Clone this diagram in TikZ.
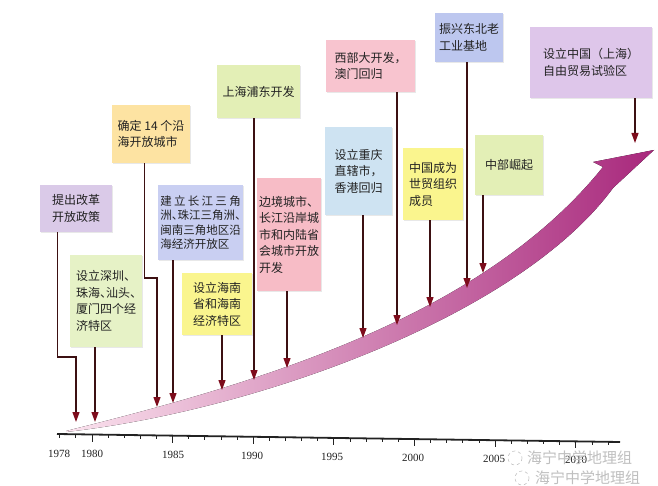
\documentclass[tikz,border=0pt]{standalone}
\usepackage{fontspec}
\setmainfont{Liberation Serif}
\newfontfamily\cjk{Noto Sans CJK SC}
\usetikzlibrary{arrows.meta,shadows}
\definecolor{cPur}{HTML}{DACAE8}
\definecolor{cPurB}{HTML}{DEC6EA}
\definecolor{cGrn}{HTML}{E6F2C6}
\definecolor{cGrnB}{HTML}{E3EFB6}
\definecolor{cOra}{HTML}{FDE3A2}
\definecolor{cBlu}{HTML}{C9CFF2}
\definecolor{cBluB}{HTML}{BDC7EF}
\definecolor{cYel}{HTML}{FAF58E}
\definecolor{cPnk}{HTML}{F7BCC6}
\definecolor{cPnkB}{HTML}{F8C4CF}
\definecolor{cLbl}{HTML}{CEE3F2}
\definecolor{lineC}{HTML}{3C1012}
\definecolor{tipC}{HTML}{7D0C1C}
\definecolor{arrL}{HTML}{FBE3EE}
\definecolor{arrM}{HTML}{D462A8}
\definecolor{arrR}{HTML}{A8287C}
\definecolor{txtC}{HTML}{222222}
\newcommand\dun{\makebox[0.5em][l]{、}}
\begin{document}
\begin{tikzpicture}[x=1pt,y=-1pt,
  note/.style={draw=none, inner sep=1pt, align=left, text=txtC,
    font=\cjk\fontsize{12}{16.5}\selectfont,
    drop shadow={opacity=0.18, shadow xshift=1.2pt, shadow yshift=-1.2pt}},
  conn/.style={draw=lineC, line width=1.2pt, -{Triangle[length=10pt,width=7pt,color=tipC]}},
  yearlbl/.style={font=\fontsize{11}{13}\selectfont, text=txtC, inner sep=0pt},
  wmark/.style={font=\cjk\fontsize{15}{17}\selectfont, text=gray!50, inner sep=0pt}]
\useasboundingbox (0,0) rectangle (658,486);
\fill[white] (0,0) rectangle (658,486);

% big rising arrow
\fill[left color=arrL, middle color=arrM, right color=arrR]
  (66,431) .. controls (250,385) and (480,320) .. (603,167)
  -- (593,162) -- (654,150)
  -- (613,188) .. controls (520,315) and (260,410) .. (66,432)
  -- cycle;

% time axis
\draw[line width=1.8pt, txtC] (57,434) -- (620,442);
\foreach \yr in {1978,...,2012}{
  \pgfmathsetmacro\xx{92+(\yr-1980)*16.13}
  \pgfmathsetmacro\yy{434+(\xx-57)*0.0142}
  \pgfmathsetmacro\len{ifthenelse(mod(\yr,5)==0,7,3.5)}
  \draw[line width=1pt, txtC] (\xx,\yy) -- ++(0,\len);
}
\node[yearlbl] (y1978) at (59,454) {1978};
\node[yearlbl] (y1980) at (92,454) {1980};
\node[yearlbl] (y1985) at (173,455) {1985};
\node[yearlbl] (y1990) at (252,456) {1990};
\node[yearlbl] (y1995) at (332,457) {1995};
\node[yearlbl] (y2000) at (413,458) {2000};
\node[yearlbl] (y2005) at (494,459) {2005};
\node[yearlbl] (y2010) at (576,460) {2010};

% boxes
\node[note, fill=cPur, minimum width=72pt, minimum height=47pt] (b1) at (76,208.5) {提出改革\\开放政策};
\node[note, fill=cGrn, minimum width=72pt, minimum height=92pt] (b2) at (106,301) {设立深圳、\\珠海\dun 汕头\dun\\厦门四个经\\济特区};
\node[note, fill=cOra, minimum width=78pt, minimum height=58pt] (b3) at (151,134) {确定 14 个沿\\海开放城市};
\node[note, fill=cBlu, minimum width=85pt, minimum height=75pt, font=\cjk\fontsize{11.5}{14.5}\selectfont] (b4) at (200.5,222.5)
  {\makebox[7em][s]{建\hfil 立\hfil 长\hfil 江\hfil 三\hfil 角}\\洲\dun 珠江三角洲\dun\\闽南三角地区沿\\海经济开放区};
\node[note, fill=cYel, minimum width=70pt, minimum height=62pt] (b5) at (217,304) {设立海南\\省和海南\\经济特区};
\node[note, fill=cGrnB, minimum width=83pt, minimum height=53pt] (b6) at (258.5,91.5) {上海浦东开发};
\node[note, fill=cPnk, minimum width=64pt, minimum height=113pt] (b7) at (289,234.5) {边境城市、\\长江沿岸城\\市和内陆省\\会城市开放\\开发};
\node[note, fill=cLbl, minimum width=67pt, minimum height=88pt] (b8) at (358.5,171) {设立重庆\\直辖市，\\香港回归};
\node[note, fill=cPnkB, minimum width=89pt, minimum height=52pt] (b9) at (370.5,66) {西部大开发，\\澳门回归};
\node[note, fill=cYel, minimum width=60pt, minimum height=72pt] (b10) at (433,184) {中国成为\\世贸组织\\成员};
\node[note, fill=cBluB, minimum width=68pt, minimum height=49pt] (b11) at (469,37.5) {振兴东北老\\工业基地};
\node[note, fill=cGrnB, minimum width=68pt, minimum height=60pt] (b12) at (509,165) {中部崛起};
\node[note, fill=cPurB, minimum width=122pt, minimum height=71pt] (b13) at (591,62.5) {设立中国（上海）\\自由贸易试验区};

% connector end points
\coordinate (t1) at (76,422);
\coordinate (j1) at (76,357);
\coordinate (t2) at (95,422);
\coordinate (t3) at (157,407);
\coordinate (j3) at (157,278);
\coordinate (t4) at (173,403);
\coordinate (t5) at (222,390);
\coordinate (t6) at (254,380);
\coordinate (t7) at (287,368);
\coordinate (t8) at (363,338);
\coordinate (t9) at (397,325);
\coordinate (t10) at (430,307);
\coordinate (t11) at (467,288);
\coordinate (t12) at (483,273);
\coordinate (t13) at (635,143);

% connectors
\draw[conn] (b1.south west) ++(18,0) |- (j1) -- (t1);
\draw[conn] (b2.south -| t2) -- (t2);
\draw[conn] (b3.south west) ++(33,0) |- (j3) -- (t3);
\draw[conn] (b4.south -| t4) -- (t4);
\draw[conn] (b5.south -| t5) -- (t5);
\draw[conn] (b6.south -| t6) -- (t6);
\draw[conn] (b7.south -| t7) -- (t7);
\draw[conn] (b8.south -| t8) -- (t8);
\draw[conn] (b9.south -| t9) -- (t9);
\draw[conn] (b10.south -| t10) -- (t10);
\draw[conn] (b11.south -| t11) -- (t11);
\draw[conn] (b12.south -| t12) -- (t12);
\draw[conn] (b13.south -| t13) -- (t13);

% watermark
\draw[gray!45, line width=0.6pt, dashed] (515,458) circle (7);
\node[wmark, anchor=west] (wm1) at (527,458) {海宁中学地理组};
\draw[gray!45, line width=0.6pt, dashed] (522,478) circle (7);
\node[wmark, anchor=west] (wm2) at (535,478) {海宁中学地理组};
\end{tikzpicture}
\end{document}
